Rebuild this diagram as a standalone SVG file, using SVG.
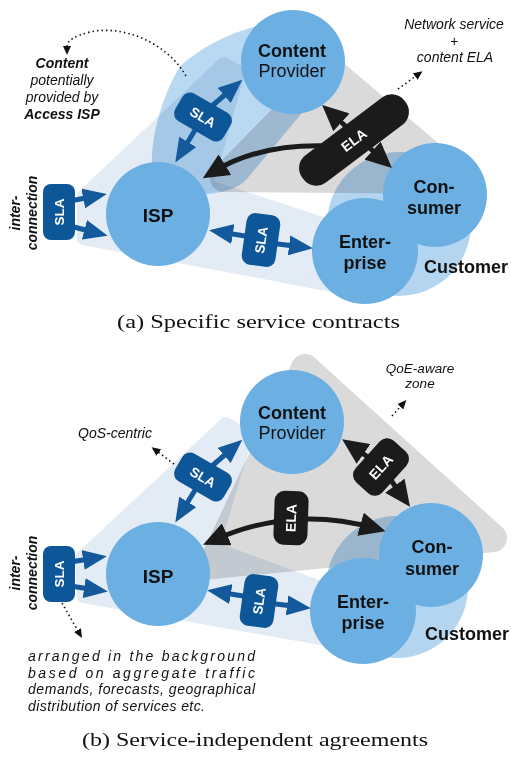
<svg xmlns="http://www.w3.org/2000/svg" width="511" height="760" viewBox="0 0 511 760">
  <defs>
    <style>
      .zone { mix-blend-mode: multiply; }
      .pale { fill: #e3ebf4; stroke: #e3ebf4; stroke-width: 14; stroke-linejoin: round; }
      .grey { fill: #dadada; stroke: #dadada; stroke-width: 28; stroke-linejoin: round; }
      .bluez { fill: #b9d9f2; }
      .cust { fill: #b4d5ef; mix-blend-mode: multiply; }
      .node { fill: #6cb0e3; }
      .lbl { font-family: "Liberation Sans", Arial, sans-serif; font-size: 18px; fill: #111; text-anchor: middle; }
      .b { font-weight: bold; }
      .sla { fill: #0d5698; }
      .ela { fill: #1b1b1b; }
      .tag { font-family: "Liberation Sans", Arial, sans-serif; font-size: 13.5px; font-weight: bold; fill: #fff; text-anchor: middle; }
      .note { font-family: "Liberation Sans", Arial, sans-serif; font-size: 14px; font-style: italic; fill: #111; }
      .mid { text-anchor: middle; }
      .blue { fill: none; stroke: #13599b; stroke-width: 5; }
      .blk { fill: none; stroke: #1b1b1b; stroke-width: 5; }
      .dot { fill: none; stroke: #111; stroke-width: 1.6; stroke-dasharray: 1.5 3; }
      .cap { font-family: "Liberation Serif", "Times New Roman", serif; font-size: 19px; fill: #111; }
    </style>
    <marker id="hb" markerUnits="userSpaceOnUse" markerWidth="24" markerHeight="20" refX="13" refY="10" orient="auto-start-reverse">
      <path d="M0,0 L24,10 L0,20 Z" fill="#13599b"/>
    </marker>
    <marker id="hk" markerUnits="userSpaceOnUse" markerWidth="26" markerHeight="24" refX="14" refY="12" orient="auto-start-reverse">
      <path d="M0,0 L26,12 L0,24 Z" fill="#1b1b1b"/>
    </marker>
    <marker id="hd" markerUnits="userSpaceOnUse" markerWidth="9" markerHeight="8" refX="1" refY="4" orient="auto">
      <path d="M0,0 L9,4 L0,8 Z" fill="#111"/>
    </marker>
  </defs>

  <rect width="511" height="760" fill="#fff"/>

  <!-- ===== (a) zones ===== -->
  <g id="a-zones">
    <polygon class="zone pale" points="84,196 224,64 238,72 206,186 328,226 332,285 84,238"/>
    <polygon class="zone grey" points="330,70 460,180 224,178"/>
    <path class="zone bluez" d="M152,172 C150,140 160,100 180,66 C210,40 248,24 292,20 C336,16 352,48 336,72 L246,180 C230,198 168,202 152,172 Z"/>
    <circle class="cust" cx="399" cy="224" r="72"/>
  </g>

  <!-- ===== (a) nodes ===== -->
  <g id="a-content-provider">
    <circle class="node" cx="293" cy="62" r="52"/>
    <text class="lbl b" x="292" y="57">Content</text>
    <text class="lbl" x="292" y="77">Provider</text>
  </g>
  <g id="a-isp">
    <circle class="node" cx="158" cy="214" r="52"/>
    <text class="lbl b" x="158" y="222" style="font-size:19px">ISP</text>
  </g>
  <g id="a-consumer">
    <circle class="node" cx="435" cy="195" r="52"/>
    <text class="lbl b" x="434" y="193">Con-</text>
    <text class="lbl b" x="434" y="214">sumer</text>
  </g>
  <g id="a-enterprise">
    <circle class="node" cx="365" cy="251" r="53"/>
    <text class="lbl b" x="365" y="248">Enter-</text>
    <text class="lbl b" x="365" y="269">prise</text>
  </g>
  <g id="a-customer">
    <text class="lbl b" x="424" y="273" style="text-anchor:start">Customer</text>
  </g>

  <!-- ===== (a) connectors ===== -->
  <g id="a-connectors">
    <path class="blue" d="M70,201 L96,196" marker-end="url(#hb)"/>
    <path class="blue" d="M70,226 L97,233" marker-end="url(#hb)"/>
    <rect class="sla" x="43" y="184" width="32" height="56" rx="8"/>
    <text class="tag" transform="translate(59,212) rotate(-90)" y="5">SLA</text>

    <path class="blue" d="M205,112 L234,87" marker-end="url(#hb)"/>
    <path class="blue" d="M200,122 L181,153" marker-end="url(#hb)"/>
    <g transform="translate(203,117) rotate(30)">
      <rect class="sla" x="-28" y="-16" width="56" height="32" rx="9"/>
      <text class="tag" y="5">SLA</text>
    </g>

    <path class="blue" d="M258,238 L220,232" marker-end="url(#hb)"/>
    <path class="blue" d="M262,242 L302,247" marker-end="url(#hb)"/>
    <g transform="translate(261,240) rotate(-82)">
      <rect class="sla" x="-26" y="-17" width="52" height="34" rx="9"/>
      <text class="tag" y="5">SLA</text>
    </g>

    <path class="blk" d="M345,147 Q265,140 213,172" marker-end="url(#hk)"/>
    <path class="blk" d="M331,113 L383,160" marker-start="url(#hk)" marker-end="url(#hk)"/>
    <g transform="translate(354,140) rotate(-37)">
      <rect class="ela" x="-64" y="-17" width="128" height="34" rx="16"/>
      <text class="tag" y="5" style="font-size:14px">ELA</text>
    </g>

    <path class="dot" d="M398,89 L416,76" marker-end="url(#hd)"/>
    <path class="dot" d="M186,76 C165,40 120,25 90,32 C75,36 67,40 67,47" marker-end="url(#hd)"/>
  </g>

  <!-- ===== (a) notes ===== -->
  <g id="a-notes">
    <text class="note mid" x="62" y="68" font-weight="bold">Content</text>
    <text class="note mid" x="62" y="85">potentially</text>
    <text class="note mid" x="62" y="102">provided by</text>
    <text class="note mid" x="62" y="119" font-weight="bold">Access ISP</text>
    <text class="note mid" x="454" y="29">Network service</text>
    <text class="note mid" x="454" y="46">+</text>
    <text class="note mid" x="455" y="62">content ELA</text>
    <text class="note mid" transform="translate(20,213) rotate(-90)" font-weight="bold">inter-</text>
    <text class="note mid" transform="translate(37,213) rotate(-90)" font-weight="bold">connection</text>
  </g>
  <text class="cap" x="117" y="328" textLength="283" lengthAdjust="spacingAndGlyphs">(a) Specific service contracts</text>

  <!-- ===== (b) zones ===== -->
  <g id="b-zones">
    <polygon class="zone pale" points="82,558 226,424 246,436 212,548 326,590 332,640 84,596"/>
    <polygon class="zone grey" points="305,368 493,538 212,565"/>
    <circle class="cust" cx="397" cy="587" r="71"/>
  </g>

  <!-- ===== (b) nodes ===== -->
  <g id="b-content-provider">
    <circle class="node" cx="292" cy="422" r="52"/>
    <text class="lbl b" x="292" y="419">Content</text>
    <text class="lbl" x="292" y="439">Provider</text>
  </g>
  <g id="b-isp">
    <circle class="node" cx="158" cy="574" r="52"/>
    <text class="lbl b" x="158" y="583" style="font-size:19px">ISP</text>
  </g>
  <g id="b-consumer">
    <circle class="node" cx="431" cy="555" r="52"/>
    <text class="lbl b" x="432" y="553">Con-</text>
    <text class="lbl b" x="432" y="575">sumer</text>
  </g>
  <g id="b-enterprise">
    <circle class="node" cx="363" cy="611" r="53"/>
    <text class="lbl b" x="363" y="608">Enter-</text>
    <text class="lbl b" x="363" y="629">prise</text>
  </g>
  <g id="b-customer">
    <text class="lbl b" x="425" y="640" style="text-anchor:start">Customer</text>
  </g>

  <!-- ===== (b) connectors ===== -->
  <g id="b-connectors">
    <path class="blue" d="M70,562 L96,558" marker-end="url(#hb)"/>
    <path class="blue" d="M70,586 L97,590" marker-end="url(#hb)"/>
    <rect class="sla" x="43" y="546" width="32" height="56" rx="8"/>
    <text class="tag" transform="translate(59,574) rotate(-90)" y="5">SLA</text>

    <path class="blue" d="M205,472 L234,447" marker-end="url(#hb)"/>
    <path class="blue" d="M200,482 L181,513" marker-end="url(#hb)"/>
    <g transform="translate(203,477) rotate(30)">
      <rect class="sla" x="-28" y="-16" width="56" height="32" rx="9"/>
      <text class="tag" y="5">SLA</text>
    </g>

    <path class="blue" d="M256,598 L218,592" marker-end="url(#hb)"/>
    <path class="blue" d="M260,602 L300,607" marker-end="url(#hb)"/>
    <g transform="translate(259,601) rotate(-82)">
      <rect class="sla" x="-26" y="-17" width="52" height="34" rx="9"/>
      <text class="tag" y="5">SLA</text>
    </g>

    <path class="blk" d="M214,540 Q293,505 374,528" marker-start="url(#hk)" marker-end="url(#hk)"/>
    <g transform="translate(291,518) rotate(-88)">
      <rect class="ela" x="-27" y="-17" width="54" height="34" rx="10"/>
      <text class="tag" y="5" style="font-size:14px">ELA</text>
    </g>

    <path class="blk" d="M375,462 L352,446" marker-end="url(#hk)"/>
    <path class="blk" d="M385,472 L403,497" marker-end="url(#hk)"/>
    <g transform="translate(381,467) rotate(-48)">
      <rect class="ela" x="-28" y="-18" width="56" height="36" rx="10"/>
      <text class="tag" y="5" style="font-size:14px">ELA</text>
    </g>

    <path class="dot" d="M174,464 L158,452" marker-end="url(#hd)"/>
    <path class="dot" d="M392,416 L401,406" marker-end="url(#hd)"/>
    <path class="dot" d="M62,603 L78,631" marker-end="url(#hd)"/>
  </g>

  <!-- ===== (b) notes ===== -->
  <g id="b-notes">
    <text class="note" x="78" y="438">QoS-centric</text>
    <text class="note mid" x="420" y="373" style="font-size:13.5px">QoE-aware</text>
    <text class="note mid" x="420" y="388" style="font-size:13.5px">zone</text>
    <text class="note mid" transform="translate(20,573) rotate(-90)" font-weight="bold">inter-</text>
    <text class="note mid" transform="translate(37,573) rotate(-90)" font-weight="bold">connection</text>
    <text class="note" x="28" y="661" textLength="227" lengthAdjust="spacing">arranged in the background</text>
    <text class="note" x="28" y="678" textLength="227" lengthAdjust="spacing">based on aggregate traffic</text>
    <text class="note" x="28" y="694" textLength="227" lengthAdjust="spacing">demands, forecasts, geographical</text>
    <text class="note" x="28" y="711" textLength="177" lengthAdjust="spacing">distribution of services etc.</text>
  </g>
  <text class="cap" x="82" y="746" textLength="346" lengthAdjust="spacingAndGlyphs">(b) Service-independent agreements</text>
</svg>
